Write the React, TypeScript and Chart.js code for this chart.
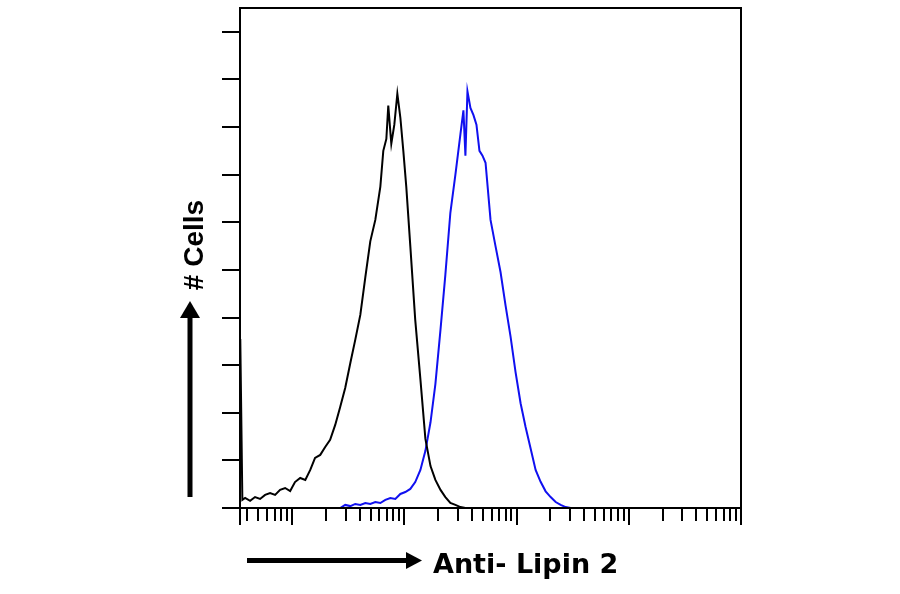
import { useEffect, useRef } from 'react';
import { Chart, registerables } from 'chart.js';
import type { ChartConfiguration, Plugin } from 'chart.js';

Chart.register(...registerables);

// Isotype control (black) – fluorescence intensity and cell counts
const controlIntensity = [
  3.45, 3.6, 3.81, 4.22, 4.67, 5.18, 5.74, 6.36, 7.05, 7.81, 8.66, 9.6, 10.6, 11.8, 13.1, 14.5,
  16.0, 17.8, 19.7, 21.8, 24.2, 26.8, 29.7, 33.0, 36.5, 40.5, 44.9, 49.7, 55.1, 61.1, 64.9, 69.1,
  71.9, 76.5, 81.4, 86.6, 92.1, 97.9, 104, 113, 125, 139, 154, 171, 189, 210, 232, 257, 285, 316, 350,
];
const controlCounts = [
  71, 3.4, 4.2, 3.0, 4.6, 3.8, 5.5, 6.3, 5.5, 7.6, 8.4, 7.1, 10.9, 12.6, 11.8, 16.0,
  21.0, 22.3, 25.6, 28.6, 34.9, 42.4, 50.4, 60.9, 70.6, 81.1, 97, 112, 121, 135, 150, 155,
  169, 153, 161, 174, 164, 150, 135, 110, 79, 54, 29, 17.6, 11.8, 7.6, 4.6, 2.1, 1.3, 0.4, 0,
];

// Anti-Lipin 2 stained cells (blue)
const lipinIntensity = [
  26.8, 29.7, 33.0, 36.5, 40.5, 44.9, 49.7, 55.1, 61.1, 67.7, 75.0, 83.1, 92.1, 102, 113, 125,
  139, 154, 171, 189, 210, 232, 257, 285, 316, 336, 350, 365, 388, 413, 439, 467, 497, 529,
  586, 649, 720, 798, 884, 980, 1086, 1203, 1334, 1478, 1638, 1815, 2012, 2230, 2471, 2738, 3035,
];
const lipinCounts = [
  0, 1.3, 0.8, 1.7, 1.3, 2.1, 1.7, 2.5, 2.1, 3.4, 4.2, 3.8, 5.9, 6.7, 8.0, 10.9,
  16.0, 24, 36, 52, 75, 98, 124, 140, 157, 167, 148, 175, 168, 165, 161, 150, 148, 145,
  121, 110, 99, 85, 72, 57, 44, 34, 25, 16, 11, 7, 4.6, 2.5, 1.3, 0.4, 0,
];

const countTicks = [0, 20, 40, 60, 80, 100, 120, 140, 160, 180, 200];
const decades = [1, 10, 100, 1000, 10000, 100000];
const minorSteps = [2, 3, 4, 5, 6, 7, 8, 9];

const xTitle = 'Anti- Lipin 2';
const yTitle = '# Cells';

const framePlugin: Plugin<'line'> = {
  id: 'flowFrame',
  afterDatasetsDraw(chart) {
    const { ctx, chartArea } = chart;
    const { left, right, top, bottom } = chartArea;
    const xs = chart.scales.x;
    const ys = chart.scales.y;
    ctx.save();
    ctx.strokeStyle = '#000';
    ctx.lineWidth = 2;
    ctx.lineCap = 'butt';

    // frame
    ctx.beginPath();
    ctx.moveTo(left, bottom + 17);
    ctx.lineTo(left, top);
    ctx.lineTo(right, top);
    ctx.lineTo(right, bottom);
    ctx.moveTo(left - 18, bottom);
    ctx.lineTo(right, bottom);
    ctx.stroke();

    // y ticks
    ctx.beginPath();
    countTicks.forEach((v) => {
      const y = Math.round(ys.getPixelForValue(v));
      ctx.moveTo(left - 18, y);
      ctx.lineTo(left, y);
    });
    ctx.stroke();

    // x log ticks
    ctx.beginPath();
    decades.forEach((d) => {
      const px = xs.getPixelForValue(d);
      if (px >= left - 1 && px <= right + 1) {
        ctx.moveTo(Math.round(px), bottom);
        ctx.lineTo(Math.round(px), bottom + 17);
      }
      minorSteps.forEach((k) => {
        const mx = xs.getPixelForValue(d * k);
        if (mx > left + 2 && mx < right - 2) {
          ctx.moveTo(Math.round(mx), bottom);
          ctx.lineTo(Math.round(mx), bottom + 13);
        }
      });
    });
    ctx.stroke();

    // x arrow
    ctx.fillStyle = '#000';
    ctx.fillRect(247, 558, 160, 5);
    ctx.beginPath();
    ctx.moveTo(406, 552);
    ctx.lineTo(422, 560.5);
    ctx.lineTo(406, 569);
    ctx.closePath();
    ctx.fill();

    // y arrow
    ctx.fillRect(187.5, 316, 5, 181);
    ctx.beginPath();
    ctx.moveTo(180, 318);
    ctx.lineTo(190, 301);
    ctx.lineTo(200, 318);
    ctx.closePath();
    ctx.fill();

    // titles
    ctx.font = 'bold 27px "DejaVu Sans", Verdana, sans-serif';
    ctx.textAlign = 'left';
    ctx.textBaseline = 'alphabetic';
    ctx.fillText(xTitle, 433, 573);

    ctx.translate(203, 245);
    ctx.rotate(-Math.PI / 2);
    ctx.font = 'bold 28px "Liberation Sans", Arial, sans-serif';
    ctx.textAlign = 'center';
    ctx.fillText(yTitle, 0, 0);
    ctx.restore();
  },
};

export default function App() {
  const canvasRef = useRef<HTMLCanvasElement>(null);

  useEffect(() => {
    if (!canvasRef.current) return;
    const toPoints = (xs: number[], ys: number[]) => xs.map((x, i) => ({ x, y: ys[i] }));

    const config: ChartConfiguration<'line'> = {
      type: 'line',
      data: {
        datasets: [
          {
            label: 'Isotype control',
            data: toPoints(controlIntensity, controlCounts),
            borderColor: '#000000',
            borderWidth: 2,
            pointRadius: 0,
            tension: 0,
          },
          {
            label: 'Anti- Lipin 2',
            data: toPoints(lipinIntensity, lipinCounts),
            borderColor: '#1010f0',
            borderWidth: 2,
            pointRadius: 0,
            tension: 0,
          },
        ],
      },
      options: {
        responsive: false,
        animation: false,
        layout: { padding: { left: 240, right: 159, top: 8, bottom: 86 } },
        plugins: { legend: { display: false }, tooltip: { enabled: false } },
        scales: {
          x: { type: 'logarithmic', min: 3.43, max: 100000, display: false },
          y: { type: 'linear', min: 0, max: 210, display: false },
        },
      },
      plugins: [framePlugin],
    };

    const chart = new Chart(canvasRef.current, config);
    return () => chart.destroy();
  }, []);

  return (
    <div style={{ position: 'fixed', left: 0, top: 0, width: 900, height: 594, background: '#fff' }}>
      <canvas ref={canvasRef} width={900} height={594} style={{ display: 'block' }} />
    </div>
  );
}
